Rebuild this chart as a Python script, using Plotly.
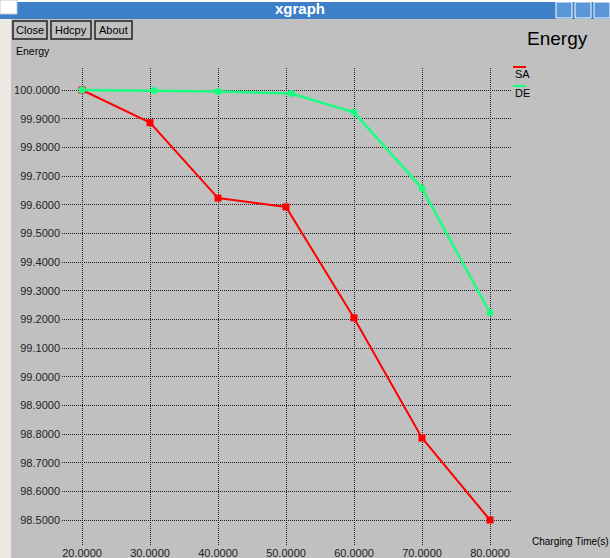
import plotly.graph_objects as go

# ---- data ----
sa_x = [20, 30, 40, 50, 60, 70, 80]
sa_y = [100.0, 99.886, 99.623, 99.592, 99.205, 98.786, 98.5]
de_x = [20, 30.6, 40, 50.8, 60, 70, 80]
de_y = [100.0, 99.998, 99.995, 99.988, 99.922, 99.657, 99.223]
series_names = ["SA", "DE"]
x_ticks = [20, 30, 40, 50, 60, 70, 80]
y_ticks = [98.5 + 0.1 * i for i in range(16)]

W, H = 610, 558
L, R, T, B = 62, 512, 68, 545  # plot area in pixels

def px(x):
    return (x - L) / (R - L)

def py(y):
    return (B - y) / (B - T)

FONT = "Liberation Sans, Arial, sans-serif"
RED = "#ff0000"
GREEN = "#19ff80"

fig = go.Figure()
fig.add_trace(go.Scatter(x=sa_x, y=sa_y, mode="lines+markers", name=series_names[0],
                         line=dict(color=RED, width=2), marker=dict(color=RED, size=7, symbol="square")))
fig.add_trace(go.Scatter(x=de_x, y=de_y, mode="lines+markers", name=series_names[1],
                         line=dict(color=GREEN, width=2.5), marker=dict(color=GREEN, size=7)))

shapes = []
annos = []
# title bar
shapes.append(dict(type="rect", xref="paper", yref="paper", x0=px(0), x1=px(W), y0=py(19), y1=py(2),
                   fillcolor="#3d80c8", line=dict(width=0), layer="above"))
shapes.append(dict(type="rect", xref="paper", yref="paper", x0=px(0), x1=px(W), y0=py(2), y1=py(0),
                   fillcolor="#ffffff", line=dict(width=0), layer="above"))
shapes.append(dict(type="rect", xref="paper", yref="paper", x0=px(0), x1=px(17), y0=py(14), y1=py(0),
                   fillcolor="#ffffff", line=dict(color="#c0c8d8", width=1), layer="above"))
for bx0, bx1 in [(556, 572), (575, 591), (594, 610)]:
    shapes.append(dict(type="rect", xref="paper", yref="paper", x0=px(bx0), x1=px(bx1), y0=py(18), y1=py(2),
                       fillcolor="#5a96d8", line=dict(color="#ffffff", width=1), layer="above"))
annos.append(dict(x=px(300), y=py(8), xref="paper", yref="paper", text="<b>xgraph</b>", showarrow=False,
                  font=dict(family=FONT, size=15, color="#ffffff"), xanchor="center", yanchor="middle"))
# left window border
shapes.append(dict(type="rect", xref="paper", yref="paper", x0=px(0), x1=px(11), y0=py(H), y1=py(19),
                   fillcolor="#ebe9e2", line=dict(width=0), layer="above"))
# buttons
for label, bx0, bx1 in [("Close", 13, 47), ("Hdcpy", 51, 91), ("About", 95, 132)]:
    shapes.append(dict(type="rect", xref="paper", yref="paper", x0=px(bx0), x1=px(bx1), y0=py(39), y1=py(21),
                       fillcolor="#c0c0c0", line=dict(color="#202020", width=1.5), layer="above"))
    annos.append(dict(x=px((bx0 + bx1) / 2), y=py(30), xref="paper", yref="paper", text=label, showarrow=False,
                      font=dict(family=FONT, size=11, color="#000000"), xanchor="center", yanchor="middle"))
# y label and title
annos.append(dict(x=px(14), y=py(51), xref="paper", yref="paper", text="Energy", showarrow=False,
                  font=dict(family=FONT, size=10.5, color="#000000"), xanchor="left", yanchor="middle"))
annos.append(dict(x=px(525), y=py(38), xref="paper", yref="paper", text="Energy", showarrow=False,
                  font=dict(family=FONT, size=19, color="#000000"), xanchor="left", yanchor="middle"))
# x label
annos.append(dict(x=px(530), y=py(541), xref="paper", yref="paper", text="Charging Time(s)", showarrow=False,
                  font=dict(family=FONT, size=10, color="#000000"), xanchor="left", yanchor="middle"))
# legend
for name, col, ly in [(series_names[0], RED, 74), (series_names[1], GREEN, 93)]:
    shapes.append(dict(type="line", xref="paper", yref="paper", x0=px(513), x1=px(526), y0=py(ly - 7), y1=py(ly - 7),
                       line=dict(color=col, width=2)))
    annos.append(dict(x=px(513), y=py(ly), xref="paper", yref="paper", text=name, showarrow=False,
                      font=dict(family=FONT, size=11, color="#000000"), xanchor="left", yanchor="middle"))

x_lo = 20 - (82 - L) / 6.8
x_hi = 80 + (R - 490) / 6.8
y_hi = 100 + (90 - T) / 286.67
y_lo = 98.5 - (B - 520) / 286.67

fig.update_layout(
    width=W, height=H,
    margin=dict(l=L, r=W - R, t=T, b=H - B, autoexpand=False),
    paper_bgcolor="#c0c0c0", plot_bgcolor="#c0c0c0",
    showlegend=False,
    shapes=shapes, annotations=annos,
    font=dict(family=FONT, size=11, color="#222222"),
    xaxis=dict(range=[x_lo, x_hi], tickvals=x_ticks, tickformat=".4f", showgrid=True, gridcolor="#202020",
               griddash="1px,1px", gridwidth=1, zeroline=False, showline=False, ticks="", ticklabelstandoff=0,
               automargin=False, tickfont=dict(family=FONT, size=11, color="#222222")),
    yaxis=dict(range=[y_lo, y_hi], tickvals=y_ticks, tickformat=".4f", showgrid=True, gridcolor="#202020",
               griddash="1px,1px", gridwidth=1, zeroline=False, showline=False, ticks="", ticklabelstandoff=1,
               automargin=False, tickfont=dict(family=FONT, size=11, color="#222222")),
)
fig.write_html("out.html", config={"displayModeBar": False},
               post_script="document.body.style.margin='0';document.body.style.overflow='hidden';")
